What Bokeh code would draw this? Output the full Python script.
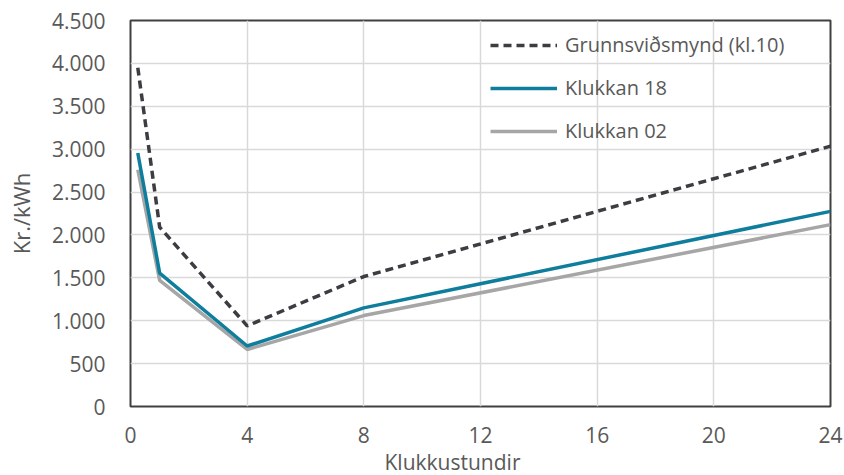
from bokeh.plotting import figure
from bokeh.models import Range1d, FixedTicker, Legend, LegendItem, Title
from bokeh.embed import file_html
from bokeh.resources import INLINE

# Data
hours = [0.25, 1, 4, 8, 24]
grunn = [3950, 2090, 940, 1515, 3035]
kl18 = [2955, 1555, 705, 1150, 2275]
kl02 = [2760, 1470, 665, 1060, 2120]
series_names = ["Grunnsviðsmynd (kl.10)", "Klukkan 18", "Klukkan 02"]

x_ticks = [0, 4, 8, 12, 16, 20, 24]
y_ticks = [0, 500, 1000, 1500, 2000, 2500, 3000, 3500, 4000, 4500]
y_tick_labels = ["0", "500", "1.000", "1.500", "2.000", "2.500", "3.000", "3.500", "4.000", "4.500"]
x_title = "Klukkustundir"
y_title = "Kr./kWh"

FONT = "Open Sans"
TXT = "#595959"

p = figure(width=844, height=475, output_backend="svg", toolbar_location=None,
           x_range=Range1d(0, 24), y_range=Range1d(0, 4500),
           min_border_left=130, min_border_right=14, min_border_top=20, min_border_bottom=69)
p.background_fill_color = "white"
p.border_fill_color = "white"
p.outline_line_color = "#404040"
p.outline_line_width = 2
p.outline_line_alpha = 1

p.xaxis.ticker = FixedTicker(ticks=x_ticks)
p.yaxis.ticker = FixedTicker(ticks=y_ticks)
p.yaxis.major_label_overrides = {t: l for t, l in zip(y_ticks, y_tick_labels)}
p.xaxis.major_label_overrides = {t: str(t) for t in x_ticks}

for ax in (p.xaxis, p.yaxis):
    ax.axis_line_color = None
    ax.major_tick_line_color = None
    ax.minor_tick_line_color = None
    ax.major_label_text_font = FONT
    ax.major_label_text_font_size = "21px"
    ax.major_label_text_color = TXT
    ax.axis_label_text_font = FONT
    ax.axis_label_text_font_size = "22px"
    ax.axis_label_text_color = TXT
    ax.axis_label_text_font_style = "normal"

p.yaxis.axis_label = y_title
p.xaxis.major_label_standoff = 14
p.yaxis.major_label_standoff = 19
p.yaxis.axis_label_standoff = 13

# x-axis title (slightly left of the plot centre, as in the original)
p.add_layout(Title(text=x_title, align="left", offset=254, standoff=0,
                   text_font=FONT, text_font_size="21px", text_font_style="normal",
                   text_color=TXT), "below")

p.xgrid.grid_line_color = "#D9D9D9"
p.ygrid.grid_line_color = "#D9D9D9"
p.xgrid.grid_line_width = 1.5
p.ygrid.grid_line_width = 1.5

r1 = p.line(hours, grunn, line_color="#3C3C42", line_width=3.5, line_dash="8 5")
r2 = p.line(hours, kl18, line_color="#0F7E9D", line_width=3.5)
r3 = p.line(hours, kl02, line_color="#A6A6A6", line_width=3.5)
p.renderers = [r3, r2, r1]

legend = Legend(items=[LegendItem(label=series_names[0], renderers=[r1]),
                       LegendItem(label=series_names[1], renderers=[r2]),
                       LegendItem(label=series_names[2], renderers=[r3])],
                location=(360, 262))
legend.background_fill_alpha = 0
legend.border_line_color = None
legend.padding = 0
legend.margin = 0
legend.glyph_width = 67
legend.glyph_height = 20
legend.label_height = 20
legend.spacing = 16
legend.label_standoff = 8
legend.label_text_font = FONT
legend.label_text_font_size = "20px"
legend.label_text_color = TXT
p.add_layout(legend, "center")

open("out.html", "w").write(file_html(p, INLINE))
